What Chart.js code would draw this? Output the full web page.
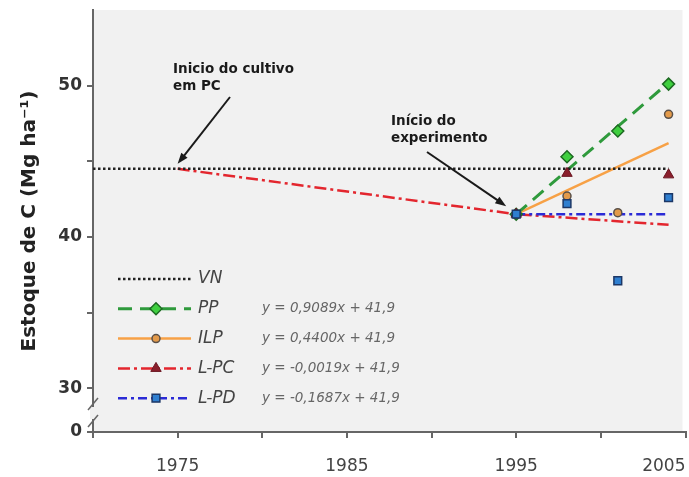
<!DOCTYPE html>
<html>
<head>
<meta charset="utf-8">
<script src="https://cdn.jsdelivr.net/npm/chart.js@4.4.1/dist/chart.umd.min.js"></script>
<style>
  html, body { margin: 0; padding: 0; background: #fff; overflow: hidden; }
  #wrap { width: 693px; height: 477px; }
</style>
</head>
<body>
<div id="wrap"><canvas id="grafico"></canvas></div>
<script>
// Valores
const anosAmostra = [1995, 1998, 2001, 2004];
const vnX = [1970, 2004];
const vnY = [44.5, 44.5];
const lpcLinhaX = [1975, 1995, 2004];
const lpcLinhaY = [44.5, 41.5, 40.8];
const ajusteX = [1995, 2004];
const ppLinhaY = [41.5, 50.2];
const ilpLinhaY = [41.5, 46.2];
const lpdLinhaY = [41.5, 41.5];
const ppPontos = [41.5, 45.3, 47.0, 50.1];
const ilpPontos = [41.5, 42.7, 41.6, 48.1];
const lpcPontos = [41.5, 44.2, null, 44.1];
const lpdPontos = [41.5, 42.2, 37.1, 42.6];

const legendaNomes = ['VN', 'PP', 'ILP', 'L-PC', 'L-PD'];
const equacoes = ['', 'y = 0,9089x + 41,9', 'y = 0,4400x + 41,9', 'y = -0,0019x + 41,9', 'y = -0,1687x + 41,9'];

const xTicks = [1970, 1975, 1980, 1985, 1990, 1995, 2000, 2005];
const xRotulos = ['', '1975', '', '1985', '', '1995', '', '2005'];
const yTicks = [27.1, 30, 35, 40, 45, 50];
const yRotulos = ['0', '30', '', '40', '', '50'];

const pares = (xs, ys) => xs.map((x, i) => ({ x, y: ys[i] }));

// datasets de pontos (desenhados por cima) e de linhas
const datasets = [
  { label: 'L-PD', data: pares(anosAmostra, lpdPontos), showLine: false, pointStyle: 'rect', pointRadius: 5.5,
    backgroundColor: '#2f7fd0', borderColor: '#1c3766', borderWidth: 1.5 },
  { label: 'L-PC', data: pares(anosAmostra, lpcPontos), showLine: false, pointStyle: 'triangle', pointRadius: 6,
    backgroundColor: '#8a1f2c', borderColor: '#6a1520', borderWidth: 1 },
  { label: 'ILP', data: pares(anosAmostra, ilpPontos), showLine: false, pointStyle: 'circle', pointRadius: 4,
    backgroundColor: '#e39a4a', borderColor: '#5a5048', borderWidth: 1.5 },
  { label: 'PP', data: pares(anosAmostra, ppPontos), showLine: false, pointStyle: 'rectRot', pointRadius: 6,
    backgroundColor: '#3fcf3f', borderColor: '#1d6a22', borderWidth: 1.5 },
  { label: 'VN-linha', data: pares(vnX, vnY), showLine: true, pointRadius: 0,
    borderColor: '#222', borderWidth: 2.5, borderDash: [2.5, 2.5] },
  { label: 'PP-linha', data: pares(ajusteX, ppLinhaY), showLine: true, pointRadius: 0,
    borderColor: '#2f9a3c', borderWidth: 3, borderDash: [14, 8] },
  { label: 'ILP-linha', data: pares(ajusteX, ilpLinhaY), showLine: true, pointRadius: 0,
    borderColor: '#f7a146', borderWidth: 2.5 },
  { label: 'LPD-linha', data: pares(ajusteX, lpdLinhaY), showLine: true, pointRadius: 0,
    borderColor: '#2b2bd6', borderWidth: 2.5, borderDash: [9, 4, 3, 4] },
  { label: 'LPC-linha', data: pares(lpcLinhaX, lpcLinhaY), showLine: true, pointRadius: 0,
    borderColor: '#e3262e', borderWidth: 2.5, borderDash: [12, 4, 3, 4] }
];

// legenda: indice da linha e do ponto para cada entrada
const legLinha = [4, 5, 6, 8, 7];
const legPonto = [null, 3, 2, 1, 0];

const fundoArea = {
  id: 'fundoArea',
  beforeDraw(chart) {
    const { ctx, chartArea: a } = chart;
    ctx.save();
    ctx.fillStyle = '#f1f1f1';
    ctx.fillRect(a.left, a.top, a.right - a.left - 3, a.bottom - a.top);
    ctx.restore();
  }
};

function seta(ctx, x1, y1, x2, y2) {
  const ang = Math.atan2(y2 - y1, x2 - x1);
  ctx.beginPath();
  ctx.moveTo(x1, y1);
  ctx.lineTo(x2 - 8 * Math.cos(ang), y2 - 8 * Math.sin(ang));
  ctx.stroke();
  ctx.beginPath();
  ctx.moveTo(x2, y2);
  ctx.lineTo(x2 - 11 * Math.cos(ang) + 4 * Math.sin(ang), y2 - 11 * Math.sin(ang) - 4 * Math.cos(ang));
  ctx.lineTo(x2 - 11 * Math.cos(ang) - 4 * Math.sin(ang), y2 - 11 * Math.sin(ang) + 4 * Math.cos(ang));
  ctx.closePath();
  ctx.fill();
}

const extras = {
  id: 'extras',
  afterDraw(chart) {
    const { ctx, chartArea: a, scales } = chart;
    const sx = scales.x, sy = scales.y;
    ctx.save();

    // legenda
    const y0 = a.bottom - 153;
    legendaNomes.forEach((nome, i) => {
      const yy = y0 + i * 29.8;
      const dl = datasets[legLinha[i]];
      ctx.save();
      ctx.strokeStyle = dl.borderColor;
      ctx.lineWidth = dl.borderWidth;
      ctx.setLineDash(dl.borderDash || []);
      ctx.beginPath();
      ctx.moveTo(a.left + 25, yy);
      ctx.lineTo(a.left + 98, yy);
      ctx.stroke();
      ctx.restore();
      if (legPonto[i] !== null) {
        const dp = datasets[legPonto[i]];
        ctx.save();
        ctx.fillStyle = dp.backgroundColor;
        ctx.strokeStyle = dp.borderColor;
        ctx.lineWidth = dp.borderWidth;
        Chart.helpers.drawPoint(ctx, { pointStyle: dp.pointStyle, radius: dp.pointRadius, borderWidth: dp.borderWidth, rotation: 0 }, a.left + 63, yy);
        ctx.restore();
      }
      ctx.fillStyle = '#444';
      ctx.font = 'italic 17px "DejaVu Sans"';
      ctx.textBaseline = 'middle';
      ctx.textAlign = 'left';
      ctx.fillText(nome, a.left + 105, yy);
      if (equacoes[i]) {
        ctx.fillStyle = '#666';
        ctx.font = 'italic 13.5px "DejaVu Sans"';
        ctx.fillText(equacoes[i], a.left + 169, yy);
      }
    });

    // anotacoes
    ctx.fillStyle = '#1a1a1a';
    ctx.strokeStyle = '#1a1a1a';
    ctx.lineWidth = 2;
    ctx.font = 'bold 13.5px "DejaVu Sans"';
    ctx.textBaseline = 'alphabetic';
    ctx.textAlign = 'left';
    ctx.fillText('Inicio do cultivo', 173, 73);
    ctx.fillText('em PC', 173, 90);
    ctx.fillText('Início do', 391, 125);
    ctx.fillText('experimento', 391, 142);
    seta(ctx, 230, 97, sx.getPixelForValue(1975), sy.getPixelForValue(44.5) - 5);
    seta(ctx, 427, 152, sx.getPixelForValue(1995) - 10, sy.getPixelForValue(41.5) - 8);

    // quebra do eixo y
    const bx = a.left;
    ctx.fillStyle = '#f1f1f1';
    ctx.fillRect(bx - 3, 407, 6, 12);
    ctx.strokeStyle = '#666';
    ctx.lineWidth = 1.5;
    [404, 421].forEach(yb => {
      ctx.beginPath();
      ctx.moveTo(bx - 5, yb + 6);
      ctx.lineTo(bx + 5, yb - 6);
      ctx.stroke();
    });
    ctx.restore();
  }
};

new Chart(document.getElementById('grafico'), {
  type: 'scatter',
  data: { datasets },
  options: {
    responsive: true,
    maintainAspectRatio: false,
    animation: false,
    layout: { padding: { top: 10, right: 1, left: 0, bottom: 0 } },
    plugins: { legend: { display: false }, tooltip: { enabled: false } },
    scales: {
      x: {
        type: 'linear', min: 1970, max: 2005,
        afterBuildTicks: s => { s.ticks = xTicks.map(v => ({ value: v })); },
        afterFit: s => { s.height = 45; s.paddingLeft = 0; s.paddingRight = 0; },
        ticks: {
          autoSkip: false, maxRotation: 0, align: 'inner', padding: 18, color: '#444',
          font: { family: 'DejaVu Sans', size: 17 },
          callback: v => xRotulos[xTicks.indexOf(v)]
        },
        grid: { drawOnChartArea: false, drawTicks: true, tickLength: 6, color: '#666', lineWidth: 2 },
        border: { color: '#666', width: 2 }
      },
      y: {
        min: 27.1, max: 55,
        afterBuildTicks: s => { s.ticks = yTicks.map(v => ({ value: v })); },
        afterFit: s => { s.width = 93; s.paddingTop = 0; s.paddingBottom = 0; },
        ticks: {
          autoSkip: false, padding: 5, color: '#333',
          font: { family: 'DejaVu Sans', size: 17, weight: 'bold' },
          callback: v => yRotulos[yTicks.indexOf(v)]
        },
        grid: { drawOnChartArea: false, drawTicks: true, tickLength: 6, color: '#666', lineWidth: 2 },
        border: { color: '#666', width: 2 },
        title: {
          display: true, text: 'Estoque de C (Mg ha⁻¹)', color: '#222',
          font: { family: 'DejaVu Sans', size: 20, weight: 'bold' },
          padding: { top: 18, bottom: 0 }
        }
      }
    }
  },
  plugins: [fundoArea, extras]
});
</script>
</body>
</html>
